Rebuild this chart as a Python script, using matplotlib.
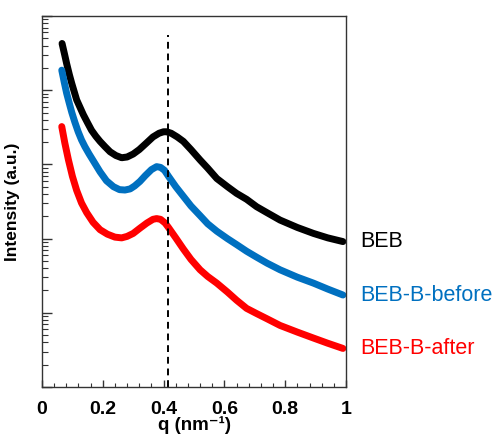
import numpy as np
import matplotlib
matplotlib.use("Agg")
import matplotlib.pyplot as plt
from matplotlib.ticker import MultipleLocator, LogLocator, NullFormatter

plt.rcParams['font.family'] = ['Liberation Sans', 'DejaVu Sans']

# q (nm^-1) and log10 of intensity
q_beb = [0.066, 0.075, 0.081, 0.09, 0.098, 0.106, 0.114, 0.125, 0.136, 0.15, 0.163, 0.177,
         0.191, 0.207, 0.224, 0.243, 0.262, 0.28, 0.30, 0.32, 0.344, 0.365, 0.385, 0.40, 0.41,
         0.425, 0.445, 0.465, 0.49, 0.52, 0.545, 0.575, 0.61, 0.64, 0.673, 0.706, 0.74, 0.783,
         0.84, 0.893, 0.94, 0.99]
logi_beb = [4.63, 4.47, 4.36, 4.21, 4.09, 3.98, 3.87, 3.77, 3.67, 3.56, 3.46, 3.38,
            3.31, 3.24, 3.17, 3.12, 3.09, 3.10, 3.14, 3.20, 3.29, 3.37, 3.42, 3.44, 3.44,
            3.42, 3.37, 3.31, 3.20, 3.06, 2.95, 2.81, 2.70, 2.61, 2.53, 2.43, 2.35, 2.25,
            2.15, 2.07, 2.01, 1.96]

q_before = [0.065, 0.073, 0.081, 0.09, 0.098, 0.108, 0.119, 0.13, 0.141, 0.155, 0.17, 0.191,
            0.212, 0.235, 0.255, 0.273, 0.29, 0.305, 0.322, 0.34, 0.36, 0.377, 0.39, 0.403,
            0.416, 0.44, 0.465, 0.49, 0.52, 0.545, 0.575, 0.61, 0.64, 0.673, 0.706, 0.74,
            0.783, 0.84, 0.893, 0.94, 0.99]
logi_before = [4.27, 4.11, 3.96, 3.82, 3.70, 3.57, 3.44, 3.33, 3.24, 3.14, 3.04, 2.90,
               2.78, 2.70, 2.66, 2.655, 2.67, 2.71, 2.77, 2.85, 2.93, 2.97, 2.96, 2.92,
               2.84, 2.70, 2.57, 2.44, 2.31, 2.20, 2.10, 2.00, 1.92, 1.83, 1.75, 1.67,
               1.58, 1.48, 1.40, 1.32, 1.24]

q_after = [0.065, 0.075, 0.087, 0.10, 0.114, 0.13, 0.147, 0.168, 0.191, 0.215, 0.24, 0.262,
           0.28, 0.30, 0.322, 0.345, 0.365, 0.377, 0.39, 0.405, 0.416, 0.44, 0.465, 0.49,
           0.52, 0.545, 0.575, 0.61, 0.64, 0.673, 0.706, 0.74, 0.783, 0.84, 0.893, 0.94, 0.99]
logi_after = [3.51, 3.29, 3.06, 2.84, 2.65, 2.48, 2.35, 2.22, 2.12, 2.06, 2.02, 2.01,
              2.03, 2.07, 2.14, 2.21, 2.26, 2.27, 2.26, 2.21, 2.15, 2.01, 1.86, 1.72,
              1.58, 1.49, 1.40, 1.28, 1.17, 1.06, 0.99, 0.92, 0.83, 0.74, 0.66, 0.59, 0.52]

series = [
    ("BEB", q_beb, logi_beb, "black"),
    ("BEB-B-before", q_before, logi_before, "#0070C0"),
    ("BEB-B-after", q_after, logi_after, "#FF0000"),
]
peak_q = 0.414

fig = plt.figure(figsize=(5.0, 4.41), dpi=100)
ax = fig.add_axes([0.084, 0.1224, 0.608, 0.8413])

for name, q, logi, color in series:
    inten = 10 ** np.array(logi)
    ax.plot(q, inten, color=color, lw=5, solid_capstyle="round", solid_joinstyle="round")
    ax.text(1.046, inten[-1], name, color=color, fontsize=15.5, va="center", ha="left",
            clip_on=False)

ax.plot([peak_q, peak_q], [1, 10 ** 4.74], color="black", lw=1.4, ls=(0, (3.5, 2.5)))

ax.set_yscale("log")
ax.set_xlim(0, 1)
ax.set_ylim(1, 1e5)
ax.xaxis.set_minor_locator(MultipleLocator(0.04))
ax.set_xticks([0, 0.2, 0.4, 0.6, 0.8, 1.0], labels=["0", "0.2", "0.4", "0.6", "0.8", "1"])
ax.yaxis.set_major_locator(LogLocator(base=10, numticks=10))
ax.yaxis.set_minor_locator(LogLocator(base=10, subs=np.arange(2, 10), numticks=10))
ax.yaxis.set_major_formatter(NullFormatter())
ax.yaxis.set_minor_formatter(NullFormatter())

ax.tick_params(axis="both", which="both", direction="in", color="#333333")
ax.tick_params(axis="x", which="major", length=5, width=1, pad=10, labelsize=14)
ax.tick_params(axis="x", which="minor", length=3, width=0.8)
ax.tick_params(axis="y", which="major", length=7, width=1)
ax.tick_params(axis="y", which="minor", length=4, width=0.8)
for lab in ax.get_xticklabels():
    lab.set_fontweight("bold")
for sp in ax.spines.values():
    sp.set_color("#333333")
    sp.set_linewidth(1)

ax.set_xlabel("q (nm\u207b\u00b9)", fontsize=13.5, fontweight="bold", labelpad=-1)
ax.set_ylabel("Intensity (a.u.)", fontsize=12.5, fontweight="bold", labelpad=12)

fig.savefig("out.png", dpi=100)
